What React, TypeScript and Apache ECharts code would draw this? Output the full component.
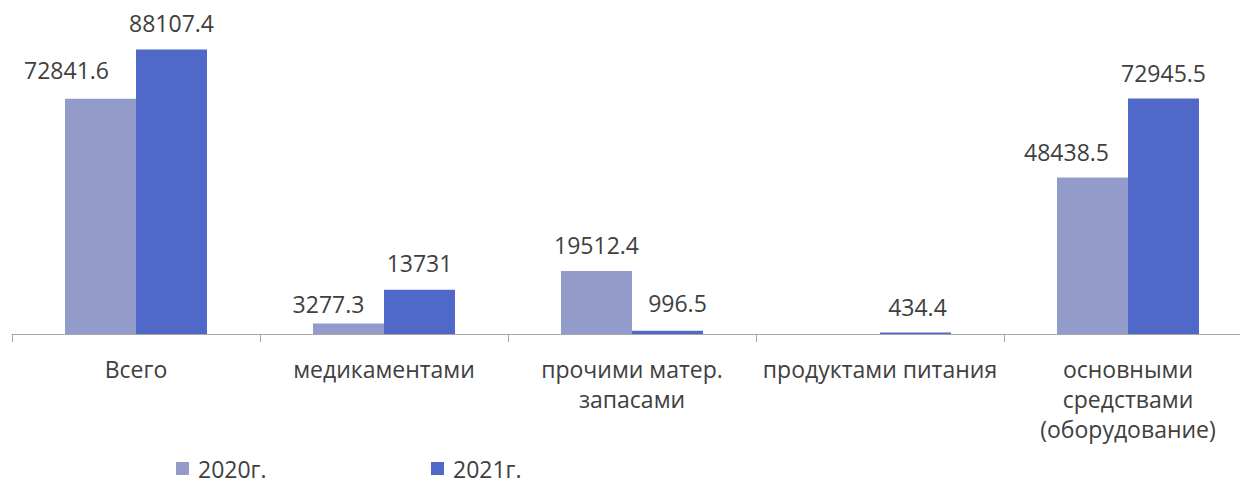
import React, { useEffect, useRef } from "react";
import * as echarts from "echarts";

const categories = [
  "Всего",
  "медикаментами",
  "прочими матер.\nзапасами",
  "продуктами питания",
  "основными\nсредствами\n(оборудование)",
];
const seriesNames = ["2020г.", "2021г."];
const values2020: (number | null)[] = [72841.6, 3277.3, 19512.4, null, 48438.5];
const values2021: (number | null)[] = [88107.4, 13731, 996.5, 434.4, 72945.5];

// label offsets (layout only)
const labelOffsets2020: [number, number][] = [[-34, -3], [-20, 7], [0, 0], [0, 0], [-26, 0]];
const labelOffsets2021: [number, number][] = [[0, 0], [0, -1], [10, -2], [2, 0], [0, 1]];

const COLORS = ["#939BCB", "#5068C8"];
const TEXT = "#404040";
const FONT = "'Open Sans', 'Noto Sans', sans-serif";
const FS = 23;

function buildData(vals: (number | null)[], offs: [number, number][]) {
  return vals.map((v, i) => ({
    value: v,
    label: { show: v !== null, offset: offs[i] },
  }));
}

export default function App() {
  const ref = useRef<HTMLDivElement>(null);
  useEffect(() => {
    if (!ref.current) return;
    const chart = echarts.init(ref.current, null, { renderer: "svg" });
    const labelCommon = {
      position: "top",
      distance: 15,
      color: TEXT,
      fontSize: FS,
      fontFamily: FONT,
      lineHeight: 22,
      formatter: (p: any) => String(p.value),
    };
    const legendText = { color: TEXT, fontSize: FS, fontFamily: FONT, lineHeight: 22, padding: [0, 0, 0, 4] };
    chart.setOption({
      animation: false,
      textStyle: { fontFamily: FONT },
      grid: { left: 12, top: 11, width: 1240, height: 323, containLabel: false },
      legend: [
        {
          data: [seriesNames[0]],
          left: 176,
          top: 457,
          padding: 0,
          itemWidth: 13,
          itemHeight: 13,
          icon: "rect",
          textStyle: legendText,
        },
        {
          data: [seriesNames[1]],
          left: 431,
          top: 457,
          padding: 0,
          itemWidth: 13,
          itemHeight: 13,
          icon: "rect",
          textStyle: legendText,
        },
      ],
      xAxis: {
        type: "category",
        data: categories,
        axisLine: { lineStyle: { color: "#A6A6A6", width: 1 } },
        axisTick: { show: true, length: 8, lineStyle: { color: "#A6A6A6" } },
        axisLabel: {
          interval: 0,
          color: TEXT,
          fontSize: FS,
          fontFamily: FONT,
          lineHeight: 30,
          margin: 20,
          align: "center",
        },
      },
      yAxis: {
        type: "value",
        min: 0,
        max: 100000,
        show: false,
        splitLine: { show: false },
      },
      series: [
        {
          name: seriesNames[0],
          type: "bar",
          data: buildData(values2020, labelOffsets2020),
          barWidth: 71,
          barGap: "0%",
          itemStyle: { color: COLORS[0] },
          label: labelCommon,
        },
        {
          name: seriesNames[1],
          type: "bar",
          data: buildData(values2021, labelOffsets2021),
          barWidth: 71,
          barGap: "0%",
          itemStyle: { color: COLORS[1] },
          label: labelCommon,
        },
      ],
    });
    return () => chart.dispose();
  }, []);
  return (
    <div
      style={{
        position: "absolute",
        left: 0,
        top: 0,
        width: 1240,
        height: 483,
        overflow: "hidden",
        background: "#fff",
      }}
    >
      <div ref={ref} style={{ width: 1256, height: 483 }} />
    </div>
  );
}
